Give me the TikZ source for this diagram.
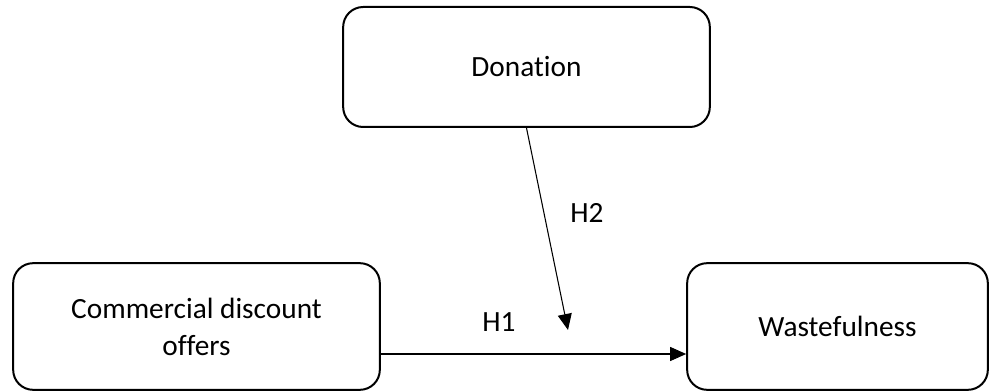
\documentclass[tikz,border=0pt]{standalone}
\usepackage{fontspec}
\setmainfont[Ligatures=NoCommon]{Carlito}
\usetikzlibrary{arrows.meta}

\begin{document}
\begin{tikzpicture}[x=0.75pt,y=-0.75pt,
	box/.style={shape=rectangle,draw=black,line width=1.5pt,rounded corners=15pt,align=center,font=\fontsize{22}{27.75}\selectfont},
	lbl/.style={font=\fontsize{22}{27.75}\selectfont},
	arr/.style={-{Triangle[length=12pt,width=10.5pt]},line width=0.8pt}]
	
	\useasboundingbox (0,0) rectangle (990,392);
	
	\node[box,minimum width=275pt,minimum height=90pt]   (don)   at (526.5, 67)    {Donation};
	\node[box,minimum width=275pt,minimum height=95pt]   (comm)  at (196.5, 326.5) {Commercial discount\\offers};
	\node[box,minimum width=225.5pt,minimum height=95pt] (waste) at (837.5, 326.5) {Wastefulness};
	
	\coordinate (row) at (0, 354);
	\coordinate (h2end) at (568, 330);
	
	\draw[arr] (comm.east |- row) -- (waste.west |- row);
	\draw[arr] (don.south) -- (h2end);
	
	\node[lbl] (h1) at (499, 322) {H1};
	\node[lbl] (h2) at (587, 213) {H2};
	
\end{tikzpicture}
\end{document}
